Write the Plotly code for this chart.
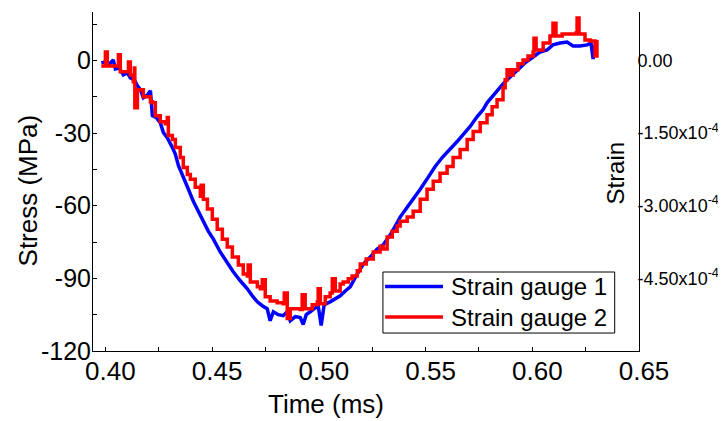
import plotly.graph_objects as go

# strain gauge 1 (blue), time in ms, stress in MPa
t1 = [0.3981, 0.4000, 0.4019, 0.4037, 0.4047, 0.4066, 0.4084, 0.4103, 0.4117, 0.4136,
      0.4150, 0.4164, 0.4178, 0.4197, 0.4211, 0.4220, 0.4239, 0.4257, 0.4272, 0.4290,
      0.4314, 0.4328, 0.4342, 0.4365, 0.4389, 0.4412, 0.4435, 0.4459, 0.4482, 0.4506,
      0.4538, 0.4566, 0.4599, 0.4632, 0.4665, 0.4688, 0.4712, 0.4735, 0.4758, 0.4772,
      0.4787, 0.4810, 0.4833, 0.4852, 0.4866, 0.4890, 0.4913, 0.4927, 0.4941, 0.4960,
      0.4983, 0.4997, 0.5011, 0.5025, 0.5053, 0.5077, 0.5100, 0.5124, 0.5147, 0.5175,
      0.5208, 0.5241, 0.5273, 0.5301, 0.5334, 0.5358, 0.5381, 0.5414, 0.5442, 0.5475,
      0.5512, 0.5545, 0.5578, 0.5615, 0.5648, 0.5676, 0.5709, 0.5742, 0.5770, 0.5788,
      0.5826, 0.5863, 0.5896, 0.5929, 0.5966, 0.6004, 0.6037, 0.6069, 0.6097, 0.6130,
      0.6163, 0.6191, 0.6224, 0.6257, 0.6275, 0.6285, 0.6294, 0.6303]
s1 = [-1.0, -0.6, -1.4, 0.2, -3.5, -3.1, -6.0, -5.1, -7.2, -8.0,
      -10.5, -12.1, -15.4, -14.2, -12.5, -22.8, -23.6, -25.7, -29.8, -31.9,
      -36.0, -38.8, -43.4, -47.9, -53.2, -58.2, -62.3, -66.4, -70.5, -73.8,
      -79.1, -82.8, -87.3, -91.0, -94.3, -97.2, -99.7, -101.3, -102.5, -107.5,
      -103.8, -105.0, -105.4, -103.8, -107.5, -105.8, -106.2, -109.1, -105.0, -103.8,
      -102.5, -101.3, -109.5, -100.9, -99.7, -98.4, -97.2, -95.2, -93.5, -89.0,
      -84.1, -81.2, -77.9, -76.2, -72.1, -68.4, -64.7, -60.6, -57.3, -53.2,
      -48.3, -43.8, -40.1, -36.8, -33.5, -30.6, -27.3, -23.2, -20.3, -17.5,
      -13.4, -9.7, -6.8, -3.9, -1.0, 1.4, 3.5, 4.3, 6.4, 7.2,
      7.6, 6.0, 6.0, 6.4, 7.2, 0.6, 6.0, 7.2]

# strain gauge 2 (red)
t2 = [0.3981, 0.3995, 0.4000, 0.4009, 0.4047, 0.4061, 0.4070, 0.4103, 0.4108, 0.4117,
      0.4131, 0.4136, 0.4138, 0.4150, 0.4178, 0.4211, 0.4220, 0.4234, 0.4257, 0.4281,
      0.4290, 0.4295, 0.4314, 0.4328, 0.4351, 0.4365, 0.4384, 0.4398, 0.4421, 0.4445,
      0.4449, 0.4459, 0.4478, 0.4501, 0.4524, 0.4548, 0.4571, 0.4595, 0.4623, 0.4646,
      0.4665, 0.4669, 0.4679, 0.4712, 0.4726, 0.4735, 0.4749, 0.4772, 0.4805, 0.4833,
      0.4838, 0.4852, 0.4866, 0.4890, 0.4913, 0.4922, 0.4936, 0.4969, 0.4993, 0.4997,
      0.5007, 0.5030, 0.5053, 0.5063, 0.5077, 0.5100, 0.5114, 0.5138, 0.5156, 0.5180,
      0.5194, 0.5222, 0.5255, 0.5287, 0.5301, 0.5320, 0.5344, 0.5367, 0.5381, 0.5414,
      0.5442, 0.5475, 0.5507, 0.5536, 0.5568, 0.5601, 0.5629, 0.5662, 0.5695, 0.5723,
      0.5756, 0.5788, 0.5812, 0.5835, 0.5863, 0.5873, 0.5882, 0.5896, 0.5910, 0.5933,
      0.5957, 0.5980, 0.6004, 0.6008, 0.6018, 0.6051, 0.6083, 0.6097, 0.6111, 0.6140,
      0.6177, 0.6205, 0.6210, 0.6219, 0.6238, 0.6247, 0.6271, 0.6285, 0.6294, 0.6303]
s2 = [-2.3, -2.3, 3.5, -2.3, -2.3, 2.3, -4.7, -4.7, -0.6, -6.0,
      -8.8, -3.1, -19.5, -12.1, -15.0, -17.1, -17.5, -22.8, -25.3, -26.1,
      -23.6, -31.0, -32.7, -36.0, -40.1, -44.2, -47.1, -49.1, -52.4, -56.1,
      -51.6, -57.3, -61.4, -65.6, -69.7, -73.8, -77.1, -81.2, -84.5, -88.2,
      -89.0, -84.5, -91.5, -93.5, -94.3, -90.6, -97.6, -99.3, -100.1, -100.5,
      -96.0, -106.6, -102.5, -102.5, -102.9, -96.8, -102.5, -100.9, -99.7, -94.3,
      -100.5, -97.6, -96.0, -90.2, -95.2, -92.3, -91.5, -90.2, -89.0, -86.9,
      -84.1, -82.0, -79.1, -76.7, -77.9, -72.9, -70.5, -68.4, -66.4, -64.7,
      -62.3, -57.3, -53.2, -49.9, -46.6, -43.8, -40.1, -36.8, -32.7, -29.4,
      -25.7, -22.4, -19.1, -16.2, -11.3, -8.0, -3.9, -6.0, -3.9, -1.4,
      0.2, 1.8, 3.5, 9.2, 4.3, 7.2, 10.1, 15.4, 10.1, 10.9,
      10.9, 11.3, 17.5, 10.9, 10.9, 8.4, 8.0, 8.0, 1.8, 8.4]

stress_ticks = [0, -30, -60, -90, -120]
stress_labels = ['0', '-30', '-60', '-90', '-120']
time_ticks = [0.40, 0.45, 0.50, 0.55, 0.60, 0.65]
time_labels = ['0.40', '0.45', '0.50', '0.55', '0.60', '0.65']
strain_ticks = [0.0, -1.5e-4, -3.0e-4, -4.5e-4]
strain_labels = ['0.00', '-1.50x10<sup>-4</sup>', '-3.00x10<sup>-4</sup>', '-4.50x10<sup>-4</sup>']
series_names = ['Strain gauge 1', 'Strain gauge 2']
series_colors = ['#0000ff', '#ff0000']

FONT = 'Liberation Sans, Arial, sans-serif'

fig = go.Figure()
fig.add_trace(go.Scatter(
    x=t1, y=s1, mode='lines', name=series_names[0],
    line=dict(color=series_colors[0], width=3.5)
))
fig.add_trace(go.Scatter(
    x=t2, y=s2, mode='lines', name=series_names[1],
    line=dict(color=series_colors[1], width=3.5, shape='hv')
))
# empty trace so the strain axis gets drawn
fig.add_trace(go.Scatter(x=[None], y=[None], yaxis='y2', showlegend=False, hoverinfo='skip'))

# legend box drawn by hand (tighter rows than plotly's own legend)
legend_shapes = [dict(type='rect', xref='paper', yref='paper', x0=0.531, x1=0.9555,
                      y0=0.053, y1=0.233, line=dict(color='black', width=1),
                      fillcolor='white', layer='above')]
legend_notes = []
for name, color, ly in zip(series_names, series_colors, [0.190, 0.100]):
    legend_shapes.append(dict(type='line', xref='paper', yref='paper', x0=0.535, x1=0.641,
                              y0=ly, y1=ly, line=dict(color=color, width=3.5)))
    legend_notes.append(dict(text=name, x=0.652, y=ly, xref='paper', yref='paper',
                             showarrow=False, font=dict(size=24),
                             xanchor='left', yanchor='middle'))

fig.update_layout(
    # page body adds 8px around the plot, so the figure is 8px smaller than the window
    width=718, height=413,
    margin=dict(l=85, r=87, t=4, b=70),
    plot_bgcolor='white', paper_bgcolor='white',
    font=dict(family=FONT, color='black', size=24),
    showlegend=False,
    xaxis=dict(
        range=[0.3942, 0.65], tickvals=time_ticks, ticktext=time_labels,
        showline=True, linecolor='black', linewidth=1, mirror=False,
        ticks='inside', ticklen=4, tickcolor='black',
        minor=dict(dtick=0.025, tick0=0.4, ticks='inside', ticklen=4, tickcolor='black'),
        tickfont=dict(size=26), ticklabelshift=5, ticklabelstandoff=-3,
        showgrid=False, zeroline=False, automargin=False
    ),
    yaxis=dict(
        range=[-120, 20], tickvals=stress_ticks, ticktext=stress_labels,
        showline=True, linecolor='black', linewidth=1,
        ticks='', minor=dict(dtick=15, tick0=0, ticks='inside', ticklen=4, tickcolor='black'),
        tickfont=dict(size=25), ticklabelstandoff=-4,
        showgrid=False, zeroline=False, automargin=False
    ),
    yaxis2=dict(
        overlaying='y', side='right', anchor='x', range=[-6e-4, 1e-4],
        tickvals=strain_ticks, ticktext=strain_labels,
        showline=True, linecolor='black', linewidth=1,
        ticks='', tickfont=dict(size=18), ticklabelstandoff=-6,
        showgrid=False, zeroline=False, automargin=False
    ),
    shapes=legend_shapes,
    annotations=[
        dict(text='Time (ms)', x=0.427, y=-0.156, xref='paper', yref='paper',
             showarrow=False, font=dict(size=26), xanchor='center', yanchor='middle'),
        dict(text='Stress (MPa)', x=-0.120, y=0.475, xref='paper', yref='paper',
             showarrow=False, font=dict(size=26), textangle=-90,
             xanchor='center', yanchor='middle'),
        dict(text='Strain', x=0.957, y=0.525, xref='paper', yref='paper',
             showarrow=False, font=dict(size=24), textangle=-90,
             xanchor='center', yanchor='middle'),
    ] + legend_notes
)

fig.write_html("out.html")
